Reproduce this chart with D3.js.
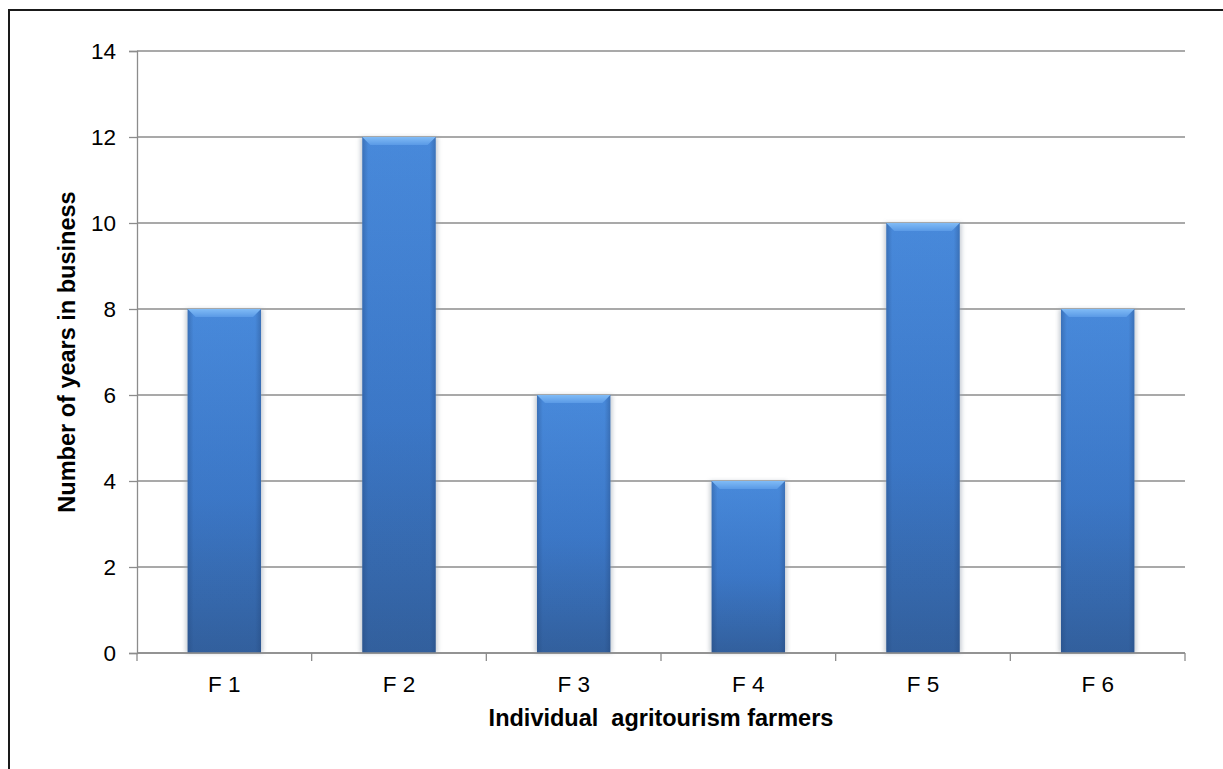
<!DOCTYPE html>
<html>
<head>
<meta charset="utf-8">
<script src="https://cdn.jsdelivr.net/npm/d3@7"></script>
<style>
  html, body { margin: 0; padding: 0; background: #fff; }
  svg { display: block; font-family: "Liberation Sans", Arial, sans-serif; }
</style>
</head>
<body>
<svg id="chart" width="1223" height="769"></svg>
<script>
// Years in business for each agritourism farmer
const farmers = ["F 1", "F 2", "F 3", "F 4", "F 5", "F 6"];
const years = [8, 12, 6, 4, 10, 8];
const yTicks = [0, 2, 4, 6, 8, 10, 12, 14];

const svg = d3.select("#chart");
const W = 1223, H = 769;
const plot = { left: 137, right: 1185, top: 51, bottom: 653 };
const tickFont = 22.5, titleFont = 23.5;

// outer chart frame (runs past the right and bottom edges)
svg.append("rect")
  .attr("x", 9).attr("y", 10)
  .attr("width", W + 20).attr("height", H + 20)
  .attr("fill", "#fff").attr("stroke", "#1a1a1a").attr("stroke-width", 2);

const x = d3.scaleBand().domain(farmers).range([plot.left, plot.right]).paddingInner(0.58).paddingOuter(0.29);
const xOuter = d3.scaleBand().domain(farmers).range([plot.left, plot.right]);
const y = d3.scaleLinear().domain([0, 14]).range([plot.bottom, plot.top]);

const defs = svg.append("defs");
const bodyGrad = defs.append("linearGradient").attr("id", "barBody")
  .attr("x1", 0).attr("y1", 0).attr("x2", 0).attr("y2", 1);
bodyGrad.append("stop").attr("offset", "0%").attr("stop-color", "#4a8de0");
bodyGrad.append("stop").attr("offset", "55%").attr("stop-color", "#3d7acb");
bodyGrad.append("stop").attr("offset", "100%").attr("stop-color", "#33619f");

const sideGrad = defs.append("linearGradient").attr("id", "barSide")
  .attr("x1", 0).attr("y1", 0).attr("x2", 1).attr("y2", 0);
sideGrad.append("stop").attr("offset", "0%").attr("stop-color", "#1f3f70").attr("stop-opacity", 0.35);
sideGrad.append("stop").attr("offset", "8%").attr("stop-color", "#1f3f70").attr("stop-opacity", 0.05);
sideGrad.append("stop").attr("offset", "92%").attr("stop-color", "#1f3f70").attr("stop-opacity", 0.05);
sideGrad.append("stop").attr("offset", "100%").attr("stop-color", "#1f3f70").attr("stop-opacity", 0.35);

const capGrad = defs.append("linearGradient").attr("id", "barTop")
  .attr("x1", 0).attr("y1", 0).attr("x2", 0).attr("y2", 1);
capGrad.append("stop").attr("offset", "0%").attr("stop-color", "#80bbf6");
capGrad.append("stop").attr("offset", "100%").attr("stop-color", "#5a9ae6");

const shadow = defs.append("filter").attr("id", "soft").attr("x", "-20%").attr("y", "-5%").attr("width", "140%").attr("height", "110%");
shadow.append("feGaussianBlur").attr("stdDeviation", 2);

// gridlines
svg.append("g").selectAll("line").data(yTicks).join("line")
  .attr("x1", plot.left).attr("x2", plot.right)
  .attr("y1", d => y(d)).attr("y2", d => y(d))
  .attr("stroke", "#8c8c8c").attr("stroke-width", 1.3);

// y axis
const yAxis = svg.append("g").attr("transform", `translate(${plot.left},0)`)
  .call(d3.axisLeft(y).tickValues(yTicks).tickSize(8).tickPadding(13).tickFormat(d3.format("d")));
yAxis.select(".domain").attr("stroke", "#8c8c8c").attr("stroke-width", 1.3);
yAxis.selectAll(".tick line").attr("stroke", "#8c8c8c").attr("stroke-width", 1.3);
yAxis.selectAll("text").attr("font-size", tickFont).attr("fill", "#000").attr("font-family", "Liberation Sans, Arial, sans-serif");

// bars
const bars = svg.append("g").selectAll("g").data(farmers).join("g");
bars.append("rect")
  .attr("x", d => x(d) - 2).attr("width", x.bandwidth() + 4)
  .attr("y", (d, i) => y(years[i])).attr("height", (d, i) => plot.bottom - y(years[i]))
  .attr("fill", "#9aa4b0").attr("opacity", 0.55).attr("filter", "url(#soft)");
bars.append("rect")
  .attr("x", d => x(d)).attr("width", x.bandwidth())
  .attr("y", (d, i) => y(years[i])).attr("height", (d, i) => plot.bottom - y(years[i]))
  .attr("fill", "url(#barBody)");
bars.append("rect")
  .attr("x", d => x(d)).attr("width", x.bandwidth())
  .attr("y", (d, i) => y(years[i])).attr("height", (d, i) => plot.bottom - y(years[i]))
  .attr("fill", "url(#barSide)");
// bevelled top edge
bars.append("path")
  .attr("d", (d, i) => {
    const x0 = x(d), x1 = x(d) + x.bandwidth(), t = y(years[i]), b = 8;
    return `M${x0},${t}L${x1},${t}L${x1 - b},${t + b}L${x0 + b},${t + b}Z`;
  })
  .attr("fill", "url(#barTop)");

// x axis
const xAxis = svg.append("g").attr("transform", `translate(0,${plot.bottom})`);
xAxis.append("line").attr("x1", plot.left).attr("x2", plot.right)
  .attr("stroke", "#8c8c8c").attr("stroke-width", 1.3);
const bounds = [plot.left].concat(farmers.map(d => xOuter(d) + xOuter.bandwidth()));
xAxis.selectAll("line.tk").data(bounds).join("line").attr("class", "tk")
  .attr("x1", d => d).attr("x2", d => d).attr("y1", 0).attr("y2", 8)
  .attr("stroke", "#8c8c8c").attr("stroke-width", 1.3);
xAxis.selectAll("text").data(farmers).join("text")
  .attr("x", d => xOuter(d) + xOuter.bandwidth() / 2).attr("y", 39)
  .attr("text-anchor", "middle").attr("font-size", tickFont).attr("fill", "#000")
  .text(d => d);

// axis titles
svg.append("text")
  .attr("x", (plot.left + plot.right) / 2).attr("y", 726)
  .attr("text-anchor", "middle").attr("font-size", titleFont).attr("font-weight", "bold")
  .attr("xml:space", "preserve").style("white-space", "pre")
  .text("Individual  agritourism farmers");
svg.append("text")
  .attr("transform", `translate(75,${(plot.top + plot.bottom) / 2}) rotate(-90)`)
  .attr("text-anchor", "middle").attr("font-size", titleFont).attr("font-weight", "bold")
  .text("Number of years in business");
</script>
</body>
</html>
